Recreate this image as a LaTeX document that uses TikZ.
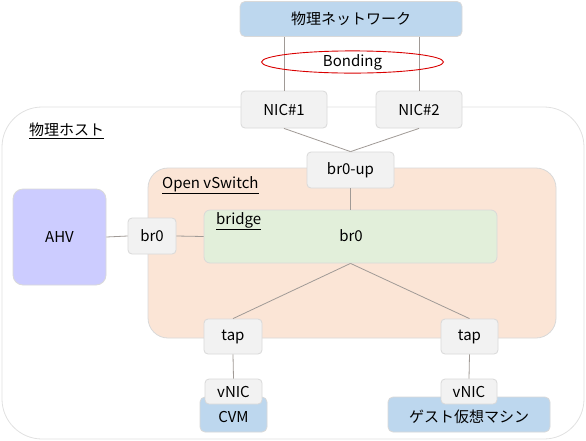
\documentclass[tikz,border=0pt]{standalone}
\usepackage{fontspec}
\setmainfont{Noto Sans CJK JP}
\usetikzlibrary{shapes.geometric}
\definecolor{lnk}{HTML}{A09A96}
\definecolor{bord}{HTML}{D9D9D9}
\definecolor{boxfill}{HTML}{F2F2F2}
\definecolor{netblue}{HTML}{BDD7EE}
\definecolor{ovsfill}{HTML}{FBE5D6}
\definecolor{brfill}{HTML}{E2EFDA}
\definecolor{ahvfill}{HTML}{CCCCFF}
\tikzset{
  every node/.style={font=\fontsize{15}{18}\selectfont, inner sep=0pt},
  box/.style={draw=bord, fill=boxfill, rounded corners=4pt, line width=0.8pt},
  bluebox/.style={draw=bord, fill=netblue, rounded corners=5pt, line width=0.8pt},
  link/.style={draw=lnk, line width=0.8pt},
  lbl/.style={anchor=west}
}
\begin{document}
\begin{tikzpicture}[x=1pt,y=-1pt]
\useasboundingbox (0,0) rectangle (586,440);
% physical host
\node[draw=bord!80, fill=white, rounded corners=40pt, line width=0.8pt, minimum width=582, minimum height=332] (host) at (293,273) {};
\node[lbl] (hostlbl) at (29,131) {\underline{物理ホスト}};
% open vswitch
\node[draw=bord, fill=ovsfill, rounded corners=20pt, line width=0.8pt, minimum width=408, minimum height=170] (ovs) at (352,253) {};
\node[lbl] (ovslbl) at (162,185) {\underline{Open vSwitch}};
% bridge
\node[draw=bord, fill=brfill, rounded corners=6pt, line width=0.8pt, minimum width=293, minimum height=53] (bridge) at (350.5,236.5) {};
\node[lbl] (brlbl) at (216,221) {\underline{bridge}};
\node (brtext) at (351,236) {br0};
% AHV
\node[draw=bord, fill=ahvfill, rounded corners=10pt, line width=0.8pt, minimum width=93, minimum height=96] (ahv) at (59.5,237) {AHV};
% physical network
\node[bluebox, minimum width=222, minimum height=35] (pn) at (351,19) {物理ネットワーク};
% NICs
\node[box, minimum width=86, minimum height=37] (nic1) at (284,109.5) {NIC\#1};
\node[box, minimum width=86, minimum height=37] (nic2) at (419,109.5) {NIC\#2};
\coordinate (pn1) at (pn.south -| nic1.north);
\coordinate (pn2) at (pn.south -| nic2.north);
% br0-up
\node[box, minimum width=87, minimum height=36] (br0up) at (350.5,170) {br0-up};
% br0 small
\node[box, minimum width=48, minimum height=36] (br0) at (152,236) {br0};
% taps
\node[box, minimum width=58, minimum height=35] (tap1) at (233,336.5) {tap};
\node[box, minimum width=57, minimum height=35] (tap2) at (469.5,336.5) {tap};
% VMs
\node[bluebox, minimum width=67, minimum height=35] (cvm) at (233.5,414.5) {};
\node (cvmtxt) at (233.5,417) {CVM};
\node[bluebox, minimum width=162, minimum height=35] (gvm) at (469,414.5) {};
\node (gvmtxt) at (469,417) {ゲスト仮想マシン};
% vNICs
\node[box, minimum width=57, minimum height=25] (vnic1) at (233.5,391.5) {vNIC};
\node[box, minimum width=56, minimum height=25] (vnic2) at (469,391.5) {vNIC};
% connectors
\draw[link] (pn1) -- (nic1.north);
\draw[link] (pn2) -- (nic2.north);
\draw[link] (nic1.south) -- (br0up.north);
\draw[link] (nic2.south) -- (br0up.north);
\draw[link] (br0up.south) -- (bridge.north -| br0up.south);
\draw[link] (ahv.east) -- (br0.west);
\draw[link] (br0.east) -- (bridge.west);
\draw[link] (bridge.south) -- (tap1.north);
\draw[link] (bridge.south) -- (tap2.north);
\draw[link] (tap1.south) -- (vnic1.north);
\draw[link] (tap2.south) -- (vnic2.north);
% bonding
\node[draw=red!85!black, ellipse, line width=0.9pt, minimum width=182, minimum height=22] (bond) at (352.5,62) {Bonding};
\end{tikzpicture}
\end{document}
